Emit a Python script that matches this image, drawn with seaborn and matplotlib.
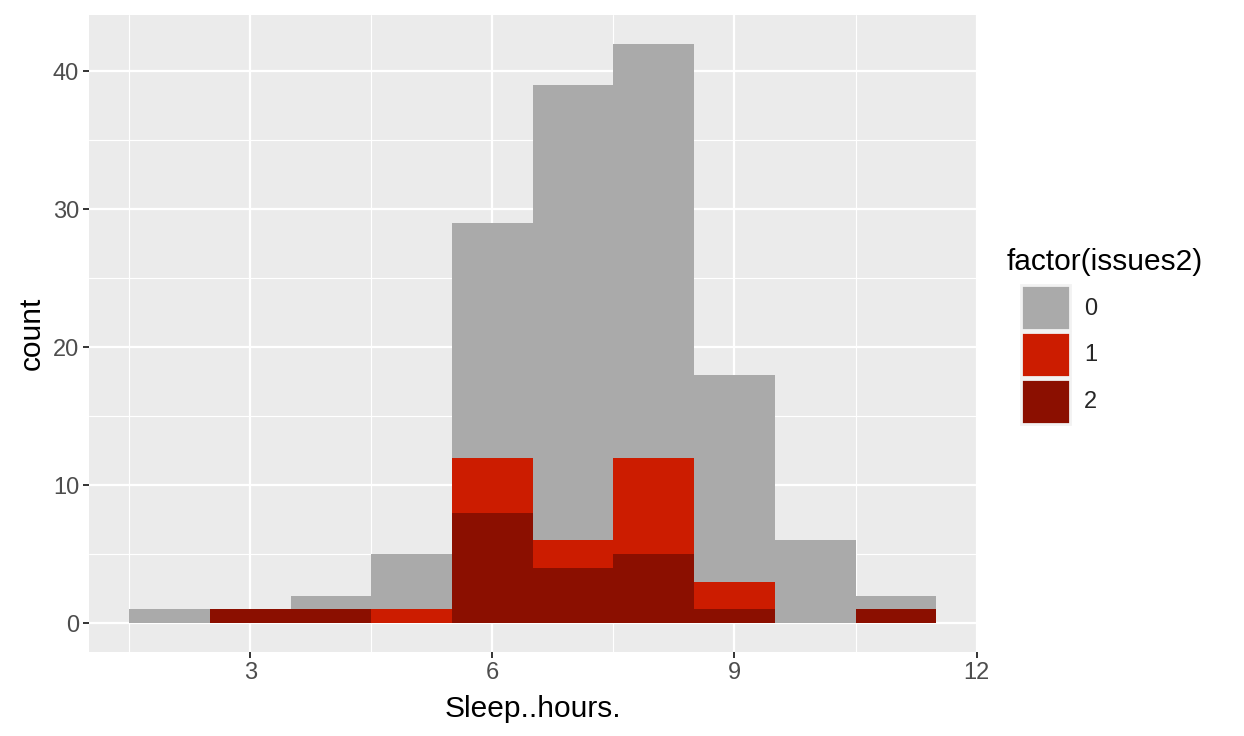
import numpy as np
import pandas as pd
import seaborn as sns
import matplotlib.pyplot as plt
from matplotlib.ticker import MultipleLocator

# binned counts per sleep hour (bin width 1) and issues group
hours = [2, 3, 4, 5, 6, 7, 8, 9, 10, 11]
count_0 = [1, 0, 1, 4, 17, 33, 30, 15, 6, 1]
count_1 = [0, 0, 0, 1, 4, 2, 7, 2, 0, 0]
count_2 = [0, 1, 1, 0, 8, 4, 5, 1, 0, 1]
levels = ["0", "1", "2"]
palette = {"0": "#AAAAAA", "1": "#CC1C00", "2": "#8B0F00"}

df = pd.DataFrame({
    "Sleep..hours.": hours * 3,
    "n": count_0 + count_1 + count_2,
    "factor(issues2)": np.repeat(levels, len(hours)),
})

sns.set_style("darkgrid", {"axes.facecolor": "#EBEBEB", "grid.color": "white"})
plt.rcParams["font.family"] = ["Liberation Sans", "DejaVu Sans"]

fig = plt.figure(figsize=(12.44, 7.36), dpi=100)
ax = fig.add_axes([0.0715, 0.114, 0.7135, 0.866])

sns.histplot(data=df, x="Sleep..hours.", weights="n", hue="factor(issues2)",
             hue_order=levels, palette=palette, multiple="stack",
             binwidth=1, binrange=(1.5, 11.5), alpha=1, linewidth=0, ax=ax)

ax.set_xlim(1.0, 12.0)
ax.set_ylim(-2.1, 44.1)
ax.xaxis.set_major_locator(MultipleLocator(3))
ax.xaxis.set_minor_locator(MultipleLocator(1.5))
ax.yaxis.set_major_locator(MultipleLocator(10))
ax.yaxis.set_minor_locator(MultipleLocator(5))
ax.grid(which="major", color="white", linewidth=1.6)
ax.grid(which="minor", color="white", linewidth=0.8)
ax.set_axisbelow(True)
for s in ax.spines.values():
    s.set_visible(False)
ax.tick_params(which="major", bottom=True, left=True, length=4.5, width=1.4,
               color="#333333", labelsize=17, labelcolor="#4D4D4D", pad=2.5)
ax.tick_params(which="minor", length=0)
ax.set_xlabel("Sleep..hours.", fontsize=21.5, color="black", labelpad=8)
ax.set_ylabel("count", fontsize=21.5, color="black", labelpad=5)

leg = ax.get_legend()
for h in leg.legend_handles:
    h.set_edgecolor("#F2F2F2")
    h.set_linewidth(2)
sns.move_legend(ax, loc="upper left", bbox_to_anchor=(1021 / 1244, 1 - 285 / 736),
                bbox_transform=fig.transFigure, frameon=False, title=None,
                fontsize=17, handlelength=2.08, handleheight=2.55,
                labelspacing=0.08, handletextpad=0.6, borderpad=0,
                borderaxespad=0)
fig.text(1007 / 1244, 1 - 262 / 736, "factor(issues2)", fontsize=21.5,
         ha="left", va="center", color="black")

fig.savefig("out.png", dpi=100)
